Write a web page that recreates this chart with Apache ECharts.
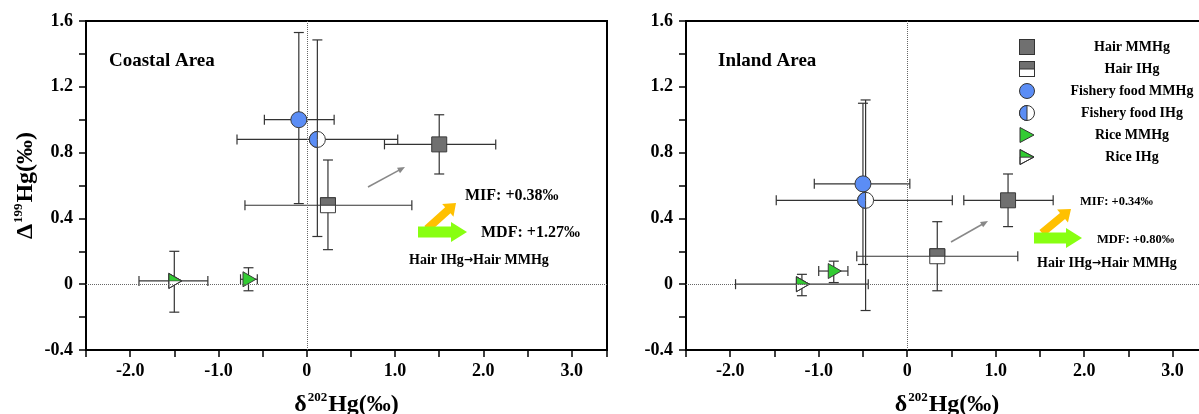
<!DOCTYPE html>
<html>
<head>
<meta charset="utf-8">
<script src="https://cdn.jsdelivr.net/npm/echarts@6/dist/echarts.min.js"></script>
<style>
  html, body { margin: 0; padding: 0; background: #fff; }
  #main { width: 1199px; height: 414px; }
</style>
</head>
<body>
<div id="main"></div>
<script>
// 系列名称（图例顺序）
var seriesNames = ['Hair MMHg', 'Hair IHg', 'Fishery food MMHg', 'Fishery food IHg', 'Rice MMHg', 'Rice IHg'];
var seriesKinds = ['sq', 'sqHalf', 'ci', 'ciHalf', 'tri', 'triHalf'];

// 每个点: [δ202Hg, Δ199Hg, x下限, x上限, y下限, y上限]
var coastalPoints = [
  [1.50, 0.85, 0.88, 2.14, 0.67, 1.03],
  [0.24, 0.48, -0.70, 1.19, 0.21, 0.755],
  [-0.09, 1.00, -0.48, 0.31, 0.49, 1.53],
  [0.12, 0.88, -0.79, 1.03, 0.29, 1.485],
  [-0.66, 0.03, -0.75, -0.56, -0.04, 0.10],
  [-1.50, 0.02, -1.90, -1.12, -0.17, 0.20]
];
var inlandPoints = [
  [1.14, 0.51, 0.64, 1.65, 0.35, 0.67],
  [0.34, 0.17, -0.57, 1.25, -0.04, 0.38],
  [-0.50, 0.61, -1.05, 0.03, 0.12, 1.10],
  [-0.47, 0.51, -1.48, 0.51, -0.16, 1.12],
  [-0.83, 0.08, -1.00, -0.67, 0.01, 0.14],
  [-1.19, 0.00, -1.94, -0.44, -0.07, 0.06]
];

// 刻度
var xMin = -2.5, xMax = 3.4, xStep = 0.5;
var yMin = -0.4, yMax = 1.6, yStep = 0.2;

var FONT = '"Liberation Serif", "Times New Roman", serif';
var GRAY = '#707070', BLUE = '#5B8DF5', GREEN = '#33CC33', EDGE = '#3a3a3a';

var myChart = echarts.init(document.getElementById('main'));

//图例图标（SVG）
function svgIcon (kind) {
  var s = '';
  if (kind == 'sq') s = "<rect x='0.5' y='0.5' width='15' height='15' fill='" + GRAY + "' stroke='#333'/>";
  if (kind == 'sqHalf') s = "<rect x='0.5' y='0.5' width='15' height='15' fill='#fff' stroke='#333'/><rect x='0.5' y='0.5' width='15' height='7.5' fill='" + GRAY + "' stroke='#333'/>";
  if (kind == 'ci') s = "<circle cx='8' cy='8' r='7.5' fill='" + BLUE + "' stroke='#333'/>";
  if (kind == 'ciHalf') s = "<circle cx='8' cy='8' r='7.5' fill='#fff' stroke='#333'/><path d='M8 0.5 A7.5 7.5 0 0 0 8 15.5 Z' fill='" + BLUE + "' stroke='#333'/>";
  if (kind == 'tri') s = "<polygon points='1,0.5 15,8 1,15.5' fill='" + GREEN + "' stroke='#333'/>";
  if (kind == 'triHalf') s = "<polygon points='1,8 15,8 1,15.5' fill='#fff' stroke='#333'/><polygon points='1,0.5 15,8 1,8' fill='" + GREEN + "' stroke='#333' stroke-width='0.6'/><polygon points='1,0.5 15,8 1,15.5' fill='none' stroke='#333'/>";
  var svg = "<svg xmlns='http://www.w3.org/2000/svg' width='16' height='16' viewBox='0 0 16 16'>" + s + "</svg>";
  return 'image://data:image/svg+xml;charset=utf-8,' + encodeURIComponent(svg);
}

//标记形状
function markerShapes (kind, cx, cy) {
  var out = [];
  if (kind == 'sq' || kind == 'sqHalf') {
    out.push({ type: 'rect', shape: { x: cx - 7.5, y: cy - 7.5, width: 15, height: 15 }, style: { fill: kind == 'sq' ? GRAY : '#fff', stroke: EDGE, lineWidth: 1 } });
    if (kind == 'sqHalf') out.push({ type: 'rect', shape: { x: cx - 7.5, y: cy - 7.5, width: 15, height: 7.5 }, style: { fill: GRAY, stroke: EDGE, lineWidth: 1 } });
  } else if (kind == 'ci' || kind == 'ciHalf') {
    out.push({ type: 'circle', shape: { cx: cx, cy: cy, r: 8 }, style: { fill: kind == 'ci' ? BLUE : '#fff', stroke: EDGE, lineWidth: 1 } });
    if (kind == 'ciHalf') out.push({ type: 'sector', shape: { cx: cx, cy: cy, r: 8, r0: 0, startAngle: Math.PI / 2, endAngle: Math.PI * 3 / 2, clockwise: true }, style: { fill: BLUE, stroke: EDGE, lineWidth: 1 } });
  } else {
    var p = [[cx - 5.5, cy - 7.5], [cx + 7.5, cy], [cx - 5.5, cy + 7.5]];
    if (kind == 'tri') {
      out.push({ type: 'polygon', shape: { points: p }, style: { fill: GREEN, stroke: EDGE, lineWidth: 1 } });
    } else {
      out.push({ type: 'polygon', shape: { points: p }, style: { fill: '#fff', stroke: EDGE, lineWidth: 1 } });
      out.push({ type: 'polygon', shape: { points: [p[0], p[1], [cx - 5.5, cy]] }, style: { fill: GREEN, stroke: EDGE, lineWidth: 0.6 } });
      out.push({ type: 'polygon', shape: { points: p }, style: { fill: 'none', stroke: EDGE, lineWidth: 1 } });
    }
  }
  out.forEach(function (e) { e.z2 = 20; });
  return out;
}

//误差棒 + 标记
function makeRender (kind) {
  return function (params, api) {
    var x = api.value(0), y = api.value(1);
    var c = api.coord([x, y]);
    var l = api.coord([api.value(2), y]), r = api.coord([api.value(3), y]);
    var b = api.coord([x, api.value(4)]), t = api.coord([x, api.value(5)]);
    var cap = 5;
    var ls = { stroke: '#333', lineWidth: 1.2 };
    var kids = [
      { type: 'line', shape: { x1: l[0], y1: l[1], x2: r[0], y2: r[1] }, style: ls },
      { type: 'line', shape: { x1: l[0], y1: l[1] - cap, x2: l[0], y2: l[1] + cap }, style: ls },
      { type: 'line', shape: { x1: r[0], y1: r[1] - cap, x2: r[0], y2: r[1] + cap }, style: ls },
      { type: 'line', shape: { x1: t[0], y1: t[1], x2: b[0], y2: b[1] }, style: ls },
      { type: 'line', shape: { x1: t[0] - cap, y1: t[1], x2: t[0] + cap, y2: t[1] }, style: ls },
      { type: 'line', shape: { x1: b[0] - cap, y1: b[1], x2: b[0] + cap, y2: b[1] }, style: ls }
    ];
    return { type: 'group', children: kids.concat(markerShapes(kind, c[0], c[1])) };
  };
}

function xLabel (v) {
  if (Math.abs(v - Math.round(v)) > 1e-6) return '';
  return Math.round(v) == 0 ? '0' : v.toFixed(1);
}
function yLabel (v) {
  var k = v / 0.4;
  if (Math.abs(k - Math.round(k)) > 1e-6) return '';
  return Math.abs(v) < 1e-6 ? '0' : v.toFixed(1);
}

var nameRich = {
  d: { fontFamily: FONT, fontWeight: 'bold', fontSize: 24, color: '#000', lineHeight: 28 },
  s: { fontFamily: FONT, fontWeight: 'bold', fontSize: 13, color: '#000', verticalAlign: 'top', lineHeight: 28, padding: [0, 1, 0, 1] }
};

function xAxisOf (gi) {
  return {
    gridIndex: gi, type: 'value', min: xMin, max: xMax, interval: xStep,
    name: '{d|δ}{s|202}{d|Hg(‰)}', nameLocation: 'middle', nameGap: 41,
    nameTextStyle: { rich: nameRich },
    axisLine: { show: true, onZero: false, lineStyle: { color: '#000', width: 2 } },
    axisTick: { show: true, inside: false, length: 7, lineStyle: { color: '#000', width: 1.5 } },
    axisLabel: { formatter: xLabel, fontFamily: FONT, fontWeight: 'bold', fontSize: 18, color: '#000', margin: 12 },
    splitLine: { show: false }
  };
}
function yAxisOf (gi) {
  return {
    gridIndex: gi, type: 'value', min: yMin, max: yMax, interval: yStep,
    name: gi == 0 ? '{d|Δ}{s|199}{d|Hg(‰)}' : '', nameLocation: 'middle', nameGap: 46, nameRotate: 90,
    nameTextStyle: { rich: nameRich },
    axisLine: { show: true, onZero: false, lineStyle: { color: '#000', width: 2 } },
    axisTick: { show: true, inside: false, length: 7, lineStyle: { color: '#000', width: 1.5 } },
    axisLabel: { formatter: yLabel, fontFamily: FONT, fontWeight: 'bold', fontSize: 18, color: '#000', margin: 13 },
    splitLine: { show: false }
  };
}

var series = [];
[coastalPoints, inlandPoints].forEach(function (pts, gi) {
  // 零线
  series.push({
    type: 'line', xAxisIndex: gi, yAxisIndex: gi, data: [], silent: true,
    markLine: {
      silent: true, symbol: 'none', label: { show: false },
      lineStyle: { color: '#666', type: 'dotted', width: 1 },
      data: [{ xAxis: 0 }, { yAxis: 0 }]
    }
  });
  for (var i = 0; i < pts.length; i++) {
    series.push({
      name: seriesNames[i], type: 'custom', xAxisIndex: gi, yAxisIndex: gi,
      renderItem: makeRender(seriesKinds[i]),
      encode: { x: [0, 2, 3], y: [1, 4, 5] },
      data: [pts[i]], clip: false, z: 3
    });
  }
});

// 注释用的箭头
function fatArrow (x0, y0, x1, y1, sw, hw, hl, color) {
  var dx = x1 - x0, dy = y1 - y0, len = Math.sqrt(dx * dx + dy * dy);
  var ux = dx / len, uy = dy / len, nx = -uy, ny = ux;
  var bx = x1 - ux * hl, by = y1 - uy * hl;
  var pts = [
    [x0 + nx * sw / 2, y0 + ny * sw / 2], [bx + nx * sw / 2, by + ny * sw / 2], [bx + nx * hw / 2, by + ny * hw / 2],
    [x1, y1],
    [bx - nx * hw / 2, by - ny * hw / 2], [bx - nx * sw / 2, by - ny * sw / 2], [x0 - nx * sw / 2, y0 - ny * sw / 2]
  ];
  return { type: 'polygon', shape: { points: pts }, style: { fill: color }, z: 5 };
}
function thinArrow (x0, y0, x1, y1) {
  var a = Math.atan2(y1 - y0, x1 - x0), h = 8, w = 0.4;
  return [
    { type: 'line', shape: { x1: x0, y1: y0, x2: x1 - Math.cos(a) * 4, y2: y1 - Math.sin(a) * 4 }, style: { stroke: '#888', lineWidth: 1.5 }, z: 5 },
    { type: 'polygon', shape: { points: [[x1, y1], [x1 - h * Math.cos(a - w), y1 - h * Math.sin(a - w)], [x1 - h * Math.cos(a + w), y1 - h * Math.sin(a + w)]] }, style: { fill: '#888' }, z: 5 }
  ];
}
function label (x, y, txt, size) {
  return { type: 'text', x: x, y: y, style: { text: txt, font: 'bold ' + size + 'px ' + FONT, fill: '#000', textVerticalAlign: 'middle' }, z: 6 };
}
function pathLabel (x, y) {
  return {
    type: 'text', x: x, y: y, z: 6,
    style: {
      text: '{t|Hair IHg}{a|→}{t|Hair MMHg}', textVerticalAlign: 'middle',
      rich: {
        t: { fontFamily: FONT, fontWeight: 'bold', fontSize: 14, fill: '#000', lineHeight: 16 },
        a: { fontFamily: '"DejaVu Sans"', fontWeight: 'bold', fontSize: 11, fill: '#000', lineHeight: 16 }
      }
    }
  };
}

var graphics = [
  label(109, 61, 'Coastal Area', 19),
  label(718, 61, 'Inland Area', 19),
  fatArrow(427, 229, 456, 203, 8, 17, 11, '#FFC000'),
  fatArrow(418, 232, 467, 232, 11, 20, 16, '#88FF11'),
  label(465, 196, 'MIF: +0.38‰', 16),
  label(481, 233, 'MDF: +1.27‰', 16),
  pathLabel(409, 260),
  fatArrow(1042, 233, 1071, 209, 8, 17, 11, '#FFC000'),
  fatArrow(1034, 238, 1082, 238, 11, 20, 16, '#88FF11'),
  label(1080, 202, 'MIF: +0.34‰', 12.5),
  label(1097, 240, 'MDF: +0.80‰', 12.5),
  pathLabel(1037, 263)
].concat(thinArrow(368, 187, 405, 167)).concat(thinArrow(951, 242, 988, 221));

var option = {
  backgroundColor: '#fff',
  animation: false,
  grid: [
    { left: 86, top: 21, width: 521, height: 329, show: true, borderColor: '#000', borderWidth: 2, backgroundColor: 'transparent', outerBoundsMode: 'none' },
    { left: 686, top: 21, width: 522, height: 329, show: true, borderColor: '#000', borderWidth: 2, backgroundColor: 'transparent', outerBoundsMode: 'none' }
  ],
  xAxis: [xAxisOf(0), xAxisOf(1)],
  yAxis: [yAxisOf(0), yAxisOf(1)],
  legend: {
    orient: 'vertical', left: 1014, top: 34, itemWidth: 16, itemHeight: 16, itemGap: 6,
    selectedMode: false,
    data: seriesNames.map(function (n, i) { return { name: n, icon: svgIcon(seriesKinds[i]) }; }),
    formatter: function (n) { return '{n|' + n + '}'; },
    textStyle: { rich: { n: { width: 184, align: 'center', fontFamily: FONT, fontWeight: 'bold', fontSize: 14, color: '#000', lineHeight: 16 } } }
  },
  graphic: graphics,
  series: series
};

myChart.setOption(option);
</script>
</body>
</html>
